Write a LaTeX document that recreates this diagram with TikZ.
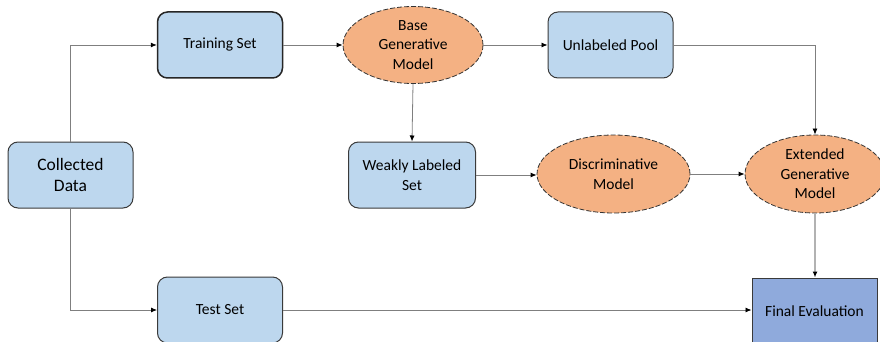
\documentclass[tikz,border=0pt]{standalone}
\usepackage{fontspec}
\setmainfont{Carlito}
\usetikzlibrary{shapes.geometric,arrows.meta}
\definecolor{lblue}{HTML}{BDD7EE}
\definecolor{dblue}{HTML}{8FAADC}
\definecolor{orng}{HTML}{F4B183}
\definecolor{edge}{HTML}{3A3A3A}
\definecolor{conn}{HTML}{7F7F7F}
\begin{document}
\begin{tikzpicture}[x=1pt,y=-1pt,
  databox/.style={draw=edge,line width=1pt,fill=lblue,rounded corners=10pt,
    minimum width=125pt,minimum height=66pt,inner sep=2pt,align=center,
    font=\fontsize{15.5}{19.5}\selectfont},
  modelell/.style={ellipse,draw=black!80,dash pattern=on 5pt off 2pt,line width=0.8pt,fill=orng,
    inner sep=0pt,align=center,font=\fontsize{15.5}{19.5}\selectfont},
  finalbox/.style={draw=edge,line width=1pt,fill=dblue,
    minimum width=125pt,minimum height=66pt,inner sep=2pt,align=center,
    font=\fontsize{15.5}{19.5}\selectfont},
  conn/.style={draw=conn,line width=0.8pt,-{Latex[length=6pt,width=5pt,color=black]}}]
\useasboundingbox (0,0) rectangle (880,342);
\node[databox,font=\fontsize{17.5}{21}\selectfont] (cd) at (70.5,175) {Collected\\Data};
\node[databox,line width=1.5pt,draw=black!85] (tr) at (220,45) {Training Set};
\node[modelell,minimum width=140pt,minimum height=77pt] (bg) at (413,45) {Base\\Generative\\Model};
\node[databox] (up) at (610.5,45) {Unlabeled Pool};
\node[databox,minimum width=127pt] (wl) at (412,175) {Weakly Labeled\\Set};
\node[modelell,minimum width=153pt,minimum height=78pt] (dm) at (613.5,174) {Discriminative\\Model};
\node[modelell,minimum width=140pt,minimum height=78pt] (eg) at (815,174) {Extended\\Generative\\Model};
\node[databox] (ts) at (220,310) {Test Set};
\node[finalbox] (fe) at (814.5,311) {Final Evaluation};
\draw[conn] (cd.north) |- (tr.west);
\draw[conn] (cd.south) |- (ts.west);
\draw[conn] (tr.east) -- (bg.west);
\draw[conn] (bg.east) -- (up.west);
\draw[conn] (bg.south) -- (wl.north);
\draw[conn] (up.east) -| (eg.north);
\draw[conn] (wl.east) -- (wl.east -| dm.west);
\draw[conn] (dm.east) -- (eg.west);
\draw[conn,draw=black!30,line width=1.2pt] (eg.south) -- (eg.south |- fe.north);
\draw[conn] (ts.east) -- (ts.east -| fe.west);
\end{tikzpicture}
\end{document}
